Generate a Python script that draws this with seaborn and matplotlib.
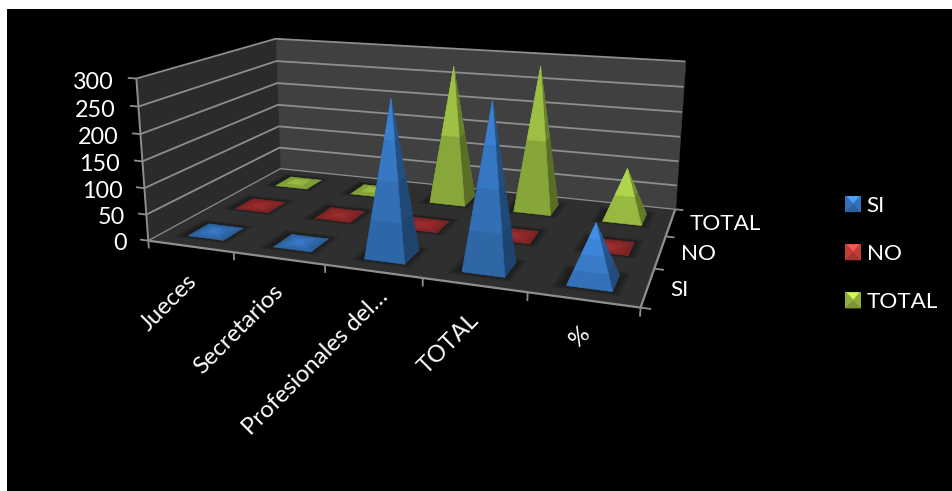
import matplotlib
matplotlib.use('Agg')
import matplotlib.pyplot as plt
from matplotlib.legend_handler import HandlerBase
from matplotlib.patches import Patch, Polygon, Rectangle
from mpl_toolkits.mplot3d import proj3d
from mpl_toolkits.mplot3d.art3d import Poly3DCollection
import numpy as np
import seaborn as sns

# Data
categories = ['Jueces', 'Secretarios', 'Profesionales del…', 'TOTAL', '%']
series_names = ['SI', 'NO', 'TOTAL']
si_values = [4, 5, 280, 289, 100]
no_values = [1, 1, 1, 1, 2]
total_values = [4, 5, 279, 290, 100]
z_ticks = [0, 50, 100, 150, 200, 250, 300]

series_values = [si_values, no_values, total_values]
series_colors = ['#3371b8', '#92292a', '#90b03e']
band_counts = [4, 4, 2]
base_size = 0.42

# Small shifts of the category labels along x and z
label_dx = [-0.03, -0.05, 0.07, -0.03, 0]
label_dz = [-5, 0, 18, 0, 5]

sns.set_theme(style='white')
plt.rcParams['font.family'] = ['Lato', 'DejaVu Sans']
text_size = 16.2

fig = plt.figure(figsize=(9.52, 4.91), dpi=100, facecolor='white')
fig.add_artist(Rectangle((7 / 952, 0), 945 / 952, 482 / 491, transform=fig.transFigure,
                         facecolor='black', edgecolor='none', zorder=-10))

ax = fig.add_subplot(projection='3d', computed_zorder=False)
ax.set_position([141.07 / 952, 59.11 / 491, 551.94 / 952, 551.94 / 491])
ax.set_xlim(0, 5)
ax.set_ylim(0, 3)
ax.set_zlim(0, 300)
ax.set_box_aspect((1, 0.5803, 0.3385))
ax.view_init(14.5665, -70.4272, -0.069)
ax.set_proj_type('persp', focal_length=0.3303)
ax.set_axis_off()
ax.patch.set_visible(False)


def add_poly(corners, color, z, alpha=None):
    poly = Poly3DCollection([corners], facecolors=color, edgecolors=color if alpha is None else 'none',
                            linewidths=0.4, alpha=alpha, zorder=z)
    ax.add_collection3d(poly, autolim=False)
    poly.set_clip_on(False)


def add_line(xs, ys, zs, lw):
    ax.plot(xs, ys, zs, color='#8e8e8e', lw=lw, zorder=2, clip_on=False, solid_capstyle='butt')


def add_label(x, y, z, text, **kwargs):
    # Text3D drops the rotation, so project the anchor and place plain text there
    xp, yp, _ = proj3d.proj_transform(x, y, z, ax.get_proj())
    ax.text2D(xp, yp, text, transform=ax.transData, color='white', **kwargs)


def shade(color, factor):
    return tuple(np.clip(np.array(matplotlib.colors.to_rgb(color)) * factor, 0, 1))


# Walls and floor
top = z_ticks[-1]
add_poly([(0, 0, 0), (0, 3, 0), (0, 3, top), (0, 0, top)], '#2b2b2b', 1)
add_poly([(0, 3, 0), (5, 3, 0), (5, 3, top), (0, 3, top)], '#404040', 1)
add_poly([(0, 0, 0), (5, 0, 0), (5, 3, 0), (0, 3, 0)], '#2f2f2f', 1)

# Gridlines on the walls
for z in z_ticks:
    add_line([0, 0, 5], [0, 3, 3], [z, z, z], 1.3 if z > 0 else 0.9)
    add_line([-0.1, 0], [0, 0], [z, z], 1.3)
    add_label(-0.27, 0, z - 11, str(z), fontsize=text_size + 0.6, ha='right', va='center')

# Axis lines, ticks and labels
add_line([0, 0], [0, 0], [0, top], 1.4)
add_line([0, 5], [0, 0], [0, 0], 1.6)
add_line([5, 5], [0, 3], [0, 0], 1.6)
for i in range(6):
    add_line([i, i], [0, 0], [0, -15], 1.3)
for j in range(4):
    add_line([5, 5.09], [j, j], [0, 0], 1.3)
for i, name in enumerate(categories):
    add_label(i + 0.55 + label_dx[i], 0, -55 + label_dz[i], name, fontsize=text_size + 0.9, rotation=45,
              rotation_mode='anchor', ha='right', va='center')
for j, name in enumerate(series_names):
    add_label(5.2, j + 0.5, 0, name, fontsize=text_size, ha='left', va='center')

# Pyramids, back row first so the front row covers it
order = 10
for j in [2, 1, 0]:
    for i, value in enumerate(series_values[j]):
        cx, cy = i + 0.5, j + 0.5
        half = base_size / 2
        x0, x1, y0, y1 = cx - half, cx + half, cy - half, cy + half

        # Soft shadow on the floor
        for grow in [0.09, 0.06, 0.03]:
            g = half + grow
            add_poly([(cx - g - 0.02, cy - g, 0), (cx + g, cy - g, 0), (cx + g, cy + g, 0), (cx - g - 0.02, cy + g, 0)],
                     'black', order, alpha=0.14)
        order += 1

        flat = value < 20
        faces = [((x0, y1), (x1, y1), 0.75), ((x0, y0), (x0, y1), 0.8),
                 ((x1, y0), (x1, y1), 0.66), ((x0, y0), (x1, y0), 1.0)]
        lift = 1 + 0.18 * (1 - value / 300) if not flat else 1.0
        n = band_counts[j]
        for a, b, face_shade in faces:
            if flat:
                face_shade = 0.85 + 0.15 * face_shade
            for k in range(n):
                t0, t1 = k / n, (k + 1) / n
                band = lift * face_shade * (0.86 + 0.3 * (k + 0.5) / n)
                p = [(a[0] + (cx - a[0]) * t0, a[1] + (cy - a[1]) * t0, value * t0),
                     (b[0] + (cx - b[0]) * t0, b[1] + (cy - b[1]) * t0, value * t0),
                     (b[0] + (cx - b[0]) * t1, b[1] + (cy - b[1]) * t1, value * t1),
                     (a[0] + (cx - a[0]) * t1, a[1] + (cy - a[1]) * t1, value * t1)]
                add_poly(p, shade(series_colors[j], band), order)
                order += 1


class PyramidHandler(HandlerBase):
    def create_artists(self, legend, orig_handle, xdescent, ydescent, width, height, fontsize, trans):
        color = orig_handle.get_facecolor()[:3]
        x, y = -xdescent, -ydescent
        square = Rectangle((x, y), width, height, facecolor=shade(color, 1.0), edgecolor='none', transform=trans)
        peak = Polygon([(x + width * 0.1, y + height), (x + width * 0.9, y + height), (x + width / 2, y + height * 0.55)],
                       facecolor=shade(color, 1.45), edgecolor='none', transform=trans)
        low = Polygon([(x, y), (x + width, y), (x + width / 2, y + height * 0.5)],
                      facecolor=shade(color, 0.85), edgecolor='none', transform=trans)
        return [square, low, peak]


handles = [Patch(facecolor=c, label=n) for c, n in zip(['#3371b8', '#c23c3a', '#8fae3c'], series_names)]
fig.legend(handles=handles, loc='upper left', bbox_to_anchor=(845 / 952, 1 - 196 / 491), frameon=False,
           fontsize=text_size, labelcolor='white', borderpad=0, borderaxespad=0, handlelength=0.72,
           handleheight=0.72, handletextpad=0.24, labelspacing=1.25,
           handler_map={Patch: PyramidHandler()})

fig.savefig('out.png', dpi=100, facecolor='white')
